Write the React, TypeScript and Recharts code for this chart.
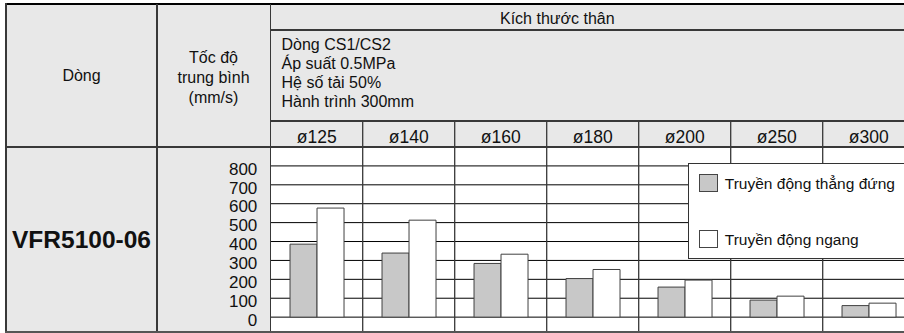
import React from "react";
import {
  BarChart,
  Bar,
  XAxis,
  YAxis,
  CartesianGrid,
  ReferenceLine,
  Legend,
} from "recharts";

const sizes = ["ø125", "ø140", "ø160", "ø180", "ø200", "ø250", "ø300"];
const verticalSpeed = [386, 339, 284, 204, 159, 90, 61];
const horizontalSpeed = [577, 513, 333, 252, 196, 111, 74];
const yTicks = [0, 100, 200, 300, 400, 500, 600, 700, 800];
const seriesNames = ["Truyền động thẳng đứng", "Truyền động ngang"];
const seriesFills = ["#c8c8c8", "#ffffff"];
const conditionLines = ["Dòng CS1/CS2", "Áp suất 0.5MPa", "Hệ số tải 50%", "Hành trình 300mm"];
const speedHeaderLines = ["Tốc độ", "trung bình", "(mm/s)"];
const modelName = "VFR5100-06";

const FONT = '"Liberation Sans", Arial, Helvetica, sans-serif';
const LINE = "#383838";

const rows = sizes.map((size, i) => ({
  size,
  vertical: verticalSpeed[i],
  horizontal: horizontalSpeed[i],
}));

function Rule({ left, top, width, height, color = LINE }: { left: number; top: number; width: number; height: number; color?: string }) {
  return <div style={{ position: "absolute", left, top, width, height, background: color }} />;
}

// bore size labels sit in the header row (top of the plot area)
function SizeTick(props: any) {
  const { x, y, payload } = props;
  return (
    <text x={x} y={y} dy={22} textAnchor="middle" fontSize={17.5} fill="#111" fontFamily={FONT}>
      {payload.value}
    </text>
  );
}

function ValueTick(props: any) {
  const { x, y, payload } = props;
  return (
    <text x={x} y={y} dy={8.7} textAnchor="end" fontSize={17} fill="#111" fontFamily={FONT}>
      {payload.value}
    </text>
  );
}

function LegendBox() {
  return (
    <div
      style={{
        width: 240,
        height: 96,
        boxSizing: "border-box",
        background: "#fff",
        border: "1px solid #333",
        position: "relative",
        fontFamily: FONT,
      }}
    >
      {seriesNames.map((name, i) => (
        <div
          key={name}
          style={{ position: "absolute", left: 10, top: 10 + i * 55.5, display: "flex", alignItems: "center", height: 18 }}
        >
          <span
            style={{
              display: "inline-block",
              width: 19,
              height: 18,
              boxSizing: "border-box",
              background: seriesFills[i],
              border: "1px solid #444",
              marginRight: 6.5,
            }}
          />
          <span style={{ fontSize: 15.5, color: "#111", whiteSpace: "nowrap", position: "relative", top: 1 }}>{name}</span>
        </div>
      ))}
    </div>
  );
}

export default function App() {
  return (
    <div
      style={{
        position: "absolute",
        left: 0,
        top: 0,
        width: 904,
        height: 333,
        overflow: "hidden",
        background: "#fff",
        fontFamily: FONT,
        color: "#111",
      }}
    >
      {/* gray header + first two columns */}
      <div style={{ position: "absolute", left: 6, top: 4, width: 898, height: 143, background: "#e8e8e8" }} />
      <div style={{ position: "absolute", left: 6, top: 147, width: 264, height: 185, background: "#e8e8e8" }} />

      {/* header texts */}
      <div style={{ position: "absolute", left: 6, top: 4, width: 151, height: 143, display: "flex", alignItems: "center", justifyContent: "center", fontSize: 16 }}>
        Dòng
      </div>
      <div style={{ position: "absolute", left: 157, top: 4, width: 113, height: 148, display: "flex", alignItems: "center", justifyContent: "center", fontSize: 16 }}>
        <div style={{ textAlign: "center", lineHeight: "20px" }}>
          {speedHeaderLines.map((l) => (
            <div key={l}>{l}</div>
          ))}
        </div>
      </div>
      <div style={{ position: "absolute", left: 500, top: 9, fontSize: 16, lineHeight: "20px", whiteSpace: "nowrap" }}>
        Kích thước thân
      </div>
      <div style={{ position: "absolute", left: 281.5, top: 35.2, fontSize: 16, lineHeight: "19px" }}>
        {conditionLines.map((l) => (
          <div key={l} style={{ whiteSpace: "nowrap" }}>{l}</div>
        ))}
      </div>
      <div style={{ position: "absolute", left: 6, top: 147, width: 151, height: 185, display: "flex", alignItems: "center", justifyContent: "center", fontSize: 24.5, fontWeight: 700 }}>
        {modelName}
      </div>

      {/* chart: plot area spans the size row and the body row */}
      <div style={{ position: "absolute", left: 157, top: 121 }}>
        <BarChart
          width={770}
          height={212}
          data={rows}
          margin={{ top: 0, right: 12.3, bottom: 1.5, left: 0 }}
          barCategoryGap="21%"
          barGap={0}
        >
          <CartesianGrid vertical={false} stroke="#000" strokeWidth={1} />
          <XAxis
            dataKey="size"
            orientation="top"
            mirror
            height={26}
            axisLine={false}
            tickLine={false}
            tickSize={0}
            tickMargin={0}
            interval={0}
            tick={<SizeTick />}
          />
          <YAxis
            domain={[-76, 1037.6]}
            ticks={yTicks}
            width={113.7}
            axisLine={false}
            tickLine={false}
            tickMargin={7.4}
            interval={0}
            tick={<ValueTick />}
          />
          {sizes.slice(1).map((s) => (
            <ReferenceLine key={s} x={s} position="start" stroke={LINE} strokeWidth={1.3} />
          ))}
          <Bar dataKey="vertical" name={seriesNames[0]} fill={seriesFills[0]} stroke="#404040" strokeWidth={1} isAnimationActive={false} />
          <Bar dataKey="horizontal" name={seriesNames[1]} fill={seriesFills[1]} stroke="#404040" strokeWidth={1} isAnimationActive={false} />
          <Legend
            layout="vertical"
            align="center"
            verticalAlign="middle"
            content={() => <LegendBox />}
            wrapperStyle={{ left: 531.3, top: 42.3, width: 240 }}
          />
        </BarChart>
      </div>

      {/* table rules */}
      <Rule left={5} top={3} width={899} height={2} color="#000" />
      <Rule left={5} top={3} width={1.5} height={330} />
      <Rule left={156.3} top={4} width={1.3} height={328} />
      <Rule left={269.8} top={4} width={1.3} height={328} />
      <Rule left={270} top={29.4} width={634} height={1.3} />
      <Rule left={270} top={120.4} width={634} height={1.3} />
      <Rule left={6} top={146.4} width={898} height={1.3} />
      <Rule left={5} top={330.6} width={899} height={2} color="#555" />
    </div>
  );
}
